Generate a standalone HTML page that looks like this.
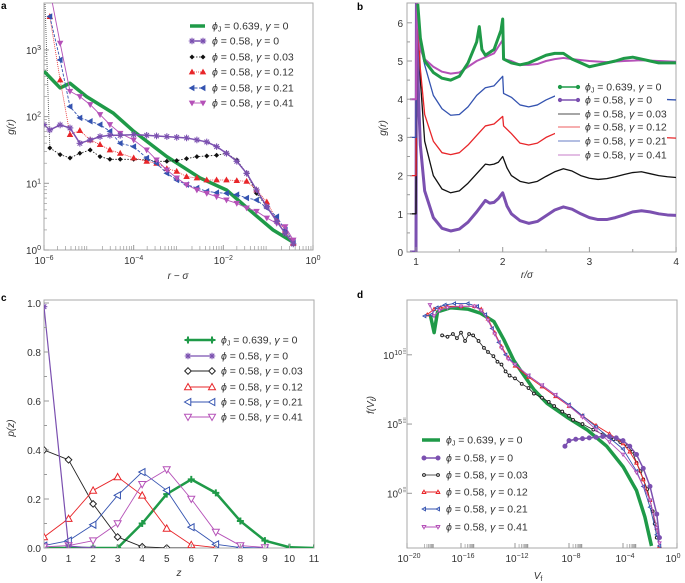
<!DOCTYPE html>
<html><head><meta charset="utf-8"><style>
html,body{margin:0;padding:0;background:#fff}
svg{display:block;font-family:"Liberation Sans",sans-serif}
</style></head><body>
<svg id="fig" width="685" height="583" viewBox="0 0 685 583" xmlns="http://www.w3.org/2000/svg"></svg>
<script>
// ---------- Panel a data (log10 values) ----------
const aX = [-5.87,-5.64,-5.42,-5.20,-4.97,-4.75,-4.53,-4.30,-4.00,-3.71,-3.49,-3.26,-3.04,-2.82,-2.59,-2.37,-2.15,-1.93,-1.70,-1.48,-1.26,-1.03,-0.81,-0.62,-0.44];
const aPurple = [1.8,1.875,1.83,1.6,1.65,1.7,1.72,1.72,1.73,1.72,1.71,1.7,1.69,1.68,1.65,1.62,1.55,1.45,1.33,1.15,0.9,0.65,0.43,0.25,0.09];
const aBlack = [1.53,1.43,1.38,1.45,1.5,1.4,1.36,1.36,1.36,1.35,1.33,1.33,1.34,1.37,1.4,1.41,1.42,1.45,1.35,1.15,0.85,0.65,0.43,0.25,0.09];
const aRed = [3.5,2.55,1.73,1.79,1.65,1.58,1.5,1.45,1.38,1.33,1.3,1.22,1.18,1.1,1.08,1.05,1.05,1.05,1.04,1.03,0.9,0.72,0.45,0.3,0.1];
const aBlue = [3.5,2.85,2.15,1.98,1.93,1.88,1.78,1.6,1.55,1.38,1.3,1.15,1.05,0.98,0.93,0.88,0.86,0.85,0.83,0.78,0.75,0.63,0.5,0.3,0.13];
const aMagenta = [3.9,3.1,2.38,2.3,2.18,2.03,1.88,1.75,1.65,1.5,1.35,1.2,1.08,0.98,0.9,0.85,0.8,0.75,0.7,0.63,0.58,0.48,0.4,0.35,0.15];
const aGreenX = [-6,-5.64,-5.42,-5.05,-4.45,-4.0,-3.26,-2.52,-1.93,-1.33,-0.89,-0.4];
const aGreenY = [2.68,2.43,2.5,2.3,2.05,1.78,1.4,1.08,0.9,0.55,0.3,0.1];
// ---------- Panel b data (shifted g(r)) ----------
const bPurpleR = [0.93,1.0,1.005,1.03,1.05,1.1,1.2,1.3,1.4,1.5,1.6,1.7,1.8,1.85,1.9,1.95,2.0,2.05,2.1,2.2,2.3,2.4,2.5,2.6,2.7,2.8,2.9,3.0,3.1,3.2,3.3,3.4,3.5,3.6,3.7,3.8,3.9,4.0];
const bPurpleG = [0,0,6.5,4,2.8,1.6,0.9,0.62,0.55,0.6,0.78,1.05,1.35,1.28,1.3,1.4,1.55,1.2,1.0,0.82,0.75,0.8,0.95,1.1,1.18,1.12,1.0,0.9,0.85,0.85,0.9,0.97,1.05,1.08,1.05,1.0,0.97,0.96];
const bBlackR = [0.93,1.0,1.01,1.03,1.05,1.1,1.2,1.3,1.4,1.5,1.6,1.7,1.8,1.85,1.9,1.95,2.0,2.05,2.1,2.2,2.3,2.4,2.5,2.6,2.7,2.8,2.9,3.0,3.1,3.2,3.3,3.4,3.5,3.6,3.7,3.8,3.9,4.0];
const bBlackG = [1,1,6.5,6,4.5,2.9,2.0,1.65,1.55,1.6,1.8,2.05,2.3,2.28,2.3,2.35,2.5,2.2,2.0,1.85,1.8,1.85,1.98,2.1,2.18,2.12,2.0,1.93,1.9,1.92,1.97,2.03,2.08,2.1,2.05,2.0,1.97,1.95];
const bRedR = [0.93,1.0,1.01,1.05,1.1,1.2,1.3,1.4,1.5,1.6,1.7,1.8,1.9,2.0,2.01,2.1,2.2,2.3,2.4,2.5,2.6,2.8,3.0,3.2,3.4,3.6,3.8,4.0];
const bRedG = [2,2,6.5,4.8,3.6,2.9,2.6,2.55,2.6,2.8,3.05,3.3,3.35,3.55,3.3,3.1,2.85,2.8,2.85,3.0,3.1,3.1,3.0,2.97,3.02,3.05,3.0,2.98];
const bBlueR = [0.93,1.0,1.01,1.05,1.1,1.2,1.3,1.4,1.5,1.6,1.7,1.8,1.9,2.0,2.01,2.1,2.2,2.3,2.4,2.5,2.6,2.8,3.0,3.2,3.4,3.6,3.8,4.0];
const bBlueG = [3,3,6.5,5.4,4.9,4.1,3.75,3.58,3.6,3.8,4.1,4.3,4.35,4.6,4.15,4.05,3.85,3.8,3.85,3.98,4.08,4.1,4.0,3.97,4.02,4.05,4.0,3.98];
const bMagR = [0.93,1.0,1.01,1.05,1.1,1.2,1.3,1.4,1.5,1.6,1.7,1.8,1.9,2.0,2.01,2.1,2.2,2.3,2.4,2.5,2.6,2.7,2.8,3.0,3.2,3.4,3.6,3.8,4.0];
const bMagG = [4,4,6.5,5.3,5.05,4.85,4.72,4.67,4.7,4.85,5.0,5.1,5.2,5.55,5.05,5.0,4.9,4.9,4.92,5.0,5.05,5.08,5.05,5.0,4.97,5.0,5.02,5.0,4.98];
const bGreenR = [1.02,1.05,1.1,1.2,1.3,1.4,1.5,1.6,1.7,1.73,1.76,1.8,1.9,1.98,2.0,2.01,2.1,2.2,2.3,2.4,2.5,2.6,2.7,2.8,2.9,3.0,3.1,3.2,3.3,3.4,3.5,3.6,3.7,3.8,3.9,4.0];
const bGreenG = [6.5,5.6,5.0,4.7,4.55,4.5,4.6,4.95,5.5,5.9,5.3,5.15,5.3,5.8,6.1,5.05,4.95,4.9,4.95,5.05,5.15,5.2,5.2,5.05,4.95,4.85,4.9,4.95,5.0,5.07,5.1,5.05,5.0,4.95,4.95,4.95];
// ---------- Panel c data ----------
const cZ = [0,1,2,3,4,5,6,7,8,9,10,11];
const cGreen = [0,0,0,0,0.1,0.22,0.28,0.225,0.11,0.03,0.003,0];
const cPurple = [0.985,0.008,0.0];
const cBlack = [0.40,0.36,0.18,0.045,0.005,0,0];
const cRed = [0.045,0.12,0.235,0.29,0.215,0.08,0.013,0.002];
const cBlue = [0.01,0.03,0.095,0.215,0.31,0.235,0.085,0.015,0.002,0];
const cMagenta = [0.005,0.01,0.03,0.1,0.26,0.32,0.2,0.065,0.01,0.002];
// ---------- Panel d data (log10 values) ----------
const dGreenX = [-18.28,-17.99,-17.74,-16.76,-15.5,-14.55,-13.56,-12.83,-12.09,-11.47,-10.61,-9.63,-8.16,-6.68,-5.21,-3.98,-3.0,-2.38,-1.89];
const dGreenY = [12.9,11.6,13.1,13.4,13.3,13.0,12.4,11.1,9.6,8.7,7.5,6.5,5.5,4.6,3.4,1.9,0.2,-1.7,-3.8];
const dPurpleX = [-8.3,-8.0,-7.5,-7.0,-6.5,-6.0,-5.5,-5.0,-4.5,-4.0,-3.5,-3.0,-2.5,-2.0,-1.5,-1.3];
const dPurpleY = [3.4,3.8,3.9,3.95,4.0,4.05,4.1,4.1,4.0,3.8,3.4,2.8,1.8,0.5,-1.5,-3.2];
const dBlackX = [-17.4,-17.0,-16.6,-16.3,-16.0,-15.7,-15.4,-15.1,-14.7,-14.3,-14.0,-13.6,-13.3,-13.0,-12.7,-12.4,-12.0,-11.5,-11.0,-10.6,-10.0,-9.5,-9.1,-8.5,-8.0,-7.7,-7.0,-6.2,-5.5,-4.7,-4.2,-3.7,-3.3,-3.0,-2.7,-2.5,-2.2,-2.0,-1.8,-1.65,-1.5];
const dBlackY = [11.4,11.3,11.5,11.2,11.6,11.0,11.5,11.4,11.0,10.5,10.2,9.9,9.5,9.3,8.8,8.5,8.3,7.9,7.6,7.2,6.9,6.6,6.3,5.9,5.6,5.3,5.0,4.6,4.25,3.9,3.7,3.4,3.0,2.2,1.6,1.0,0.3,-0.5,-1.3,-2.2,-3.2];
const dRedX = [-18.5,-18.0,-17.5,-17.0,-16.0,-15.0,-14.5,-14.0,-13.5,-13.0,-12.5,-12.0,-11.0,-10.0,-9.0,-8.0,-7.0,-6.0,-5.0,-4.0,-3.5,-3.0,-2.5,-2.0,-1.5,-1.3];
const dRedY = [12.9,13.3,13.4,13.5,13.5,13.5,13.3,12.6,11.6,10.6,9.8,9.2,8.4,7.7,7.0,6.3,5.6,4.9,4.3,3.6,3.0,2.2,1.0,-0.5,-2.5,-3.8];
const dBlueX = [-18.7,-18.2,-17.8,-17.2,-16.5,-15.5,-14.8,-14.2,-13.7,-13.2,-12.7,-12.0,-11.0,-10.0,-9.0,-8.0,-7.0,-6.0,-5.0,-4.0,-3.0,-2.5,-2.0,-1.5,-1.3];
const dBlueY = [12.8,12.9,13.4,13.6,13.7,13.7,13.5,12.9,11.9,10.9,10.0,9.3,8.5,7.8,7.1,6.4,5.6,4.8,4.0,3.2,1.6,0.5,-1.0,-3.0,-3.8];
const dMagX = [-18.3,-18.0,-17.6,-17.0,-16.0,-15.0,-14.5,-14.0,-13.5,-13.0,-12.5,-12.0,-11.0,-10.0,-9.0,-8.0,-7.0,-6.0,-5.0,-4.0,-3.0,-2.0,-1.5,-1.3];
const dMagY = [13.6,12.8,13.2,13.4,13.5,13.5,13.2,12.5,11.5,10.5,9.7,9.3,8.5,7.8,7.1,6.3,5.5,4.6,3.7,2.8,1.5,-0.5,-2.5,-3.6];

const NS='http://www.w3.org/2000/svg';
const svg=document.getElementById('fig');
function add(tag,parent,name,attrs){
  const el=document.createElementNS(NS,tag);
  
  
  for(const k in attrs) el.setAttribute(k,attrs[k]);
  parent.appendChild(el);
  return el;
}
const C={green:'#1f9a48',purple:'#7b50b0',black:'#111',red:'#e8262a',blue:'#3453b0',mag:'#b551b8'};
function text(parent,name,x,y,str,opt){
  opt=opt||{};
  const t=add('text',parent,name,{x:x,y:y,'font-size':opt.fs||10,fill:opt.fill||'#333','text-anchor':opt.anchor||'start'});
  if(opt.bold) t.setAttribute('font-weight','bold');
  if(opt.rot) t.setAttribute('transform','rotate(-90 '+x+' '+y+')');
  if(opt.italic) t.setAttribute('font-style','italic');
  t.textContent=str;
  return t;
}
function pow10(parent,name,x,y,e,anchor){
  const t=add('text',parent,name,{x:x,y:y,'font-size':10,fill:'#333','text-anchor':anchor||'middle'});
  const a=document.createElementNS(NS,'tspan');a.textContent='10';t.appendChild(a);
  const b=document.createElementNS(NS,'tspan');b.setAttribute('dy','-4');b.setAttribute('font-size','7');b.textContent=e;t.appendChild(b);
  return t;
}
function marker(g,type,x,y,s,col,filled,name){
  const f=filled?col:'#fff';
  if(type==='circle') return add('circle',g,name,{cx:x,cy:y,r:s,fill:f,stroke:col,'stroke-width':1});
  if(type==='diamond') return add('polygon',g,name,{points:`${x},${y-s} ${x+s},${y} ${x},${y+s} ${x-s},${y}`,fill:f,stroke:col,'stroke-width':1});
  if(type==='up') return add('polygon',g,name,{points:`${x},${y-s} ${x+s},${y+s*0.8} ${x-s},${y+s*0.8}`,fill:f,stroke:col,'stroke-width':1});
  if(type==='down') return add('polygon',g,name,{points:`${x},${y+s} ${x+s},${y-s*0.8} ${x-s},${y-s*0.8}`,fill:f,stroke:col,'stroke-width':1});
  if(type==='left') return add('polygon',g,name,{points:`${x-s},${y} ${x+s*0.8},${y-s} ${x+s*0.8},${y+s}`,fill:f,stroke:col,'stroke-width':1});
  if(type==='star') return add('path',g,name,{d:`M${x-s},${y}H${x+s}M${x},${y-s}V${y+s}M${x-s*0.7},${y-s*0.7}L${x+s*0.7},${y+s*0.7}M${x-s*0.7},${y+s*0.7}L${x+s*0.7},${y-s*0.7}`,stroke:col,'stroke-width':1.1,fill:'none'});
  if(type==='plus') return add('path',g,name,{d:`M${x-s},${y}H${x+s}M${x},${y-s}V${y+s}`,stroke:col,'stroke-width':2,fill:'none'});
}
function panel(name,x0,x1,y0,y1){
  const g=add('g',svg,name,{});
  const id='clip-'+name;
  const cp=add('clipPath',g,name+'-clip',{id:id});
  add('rect',cp,name+'-clip-rect',{x:x0,y:y0,width:x1-x0,height:y1-y0});
  add('rect',g,name+'-frame',{x:x0,y:y0,width:x1-x0,height:y1-y0,fill:'none',stroke:'#aaa','stroke-width':1});
  const plot=add('g',g,name+'-plot-area',{'clip-path':'url(#'+id+')'});
  return {g:g,plot:plot};
}
function series(plot,name,xs,ys,sx,sy,col,w,dash,mtype,ms,filled){
  const sg=add('g',plot,name,{});
  const pts=xs.map((v,i)=>sx(v)+','+sy(ys[i])).join(' ');
  const pl=add('polyline',sg,name+'-line',{points:pts,fill:'none',stroke:col,'stroke-width':w,'stroke-linejoin':'round'});
  if(dash) pl.setAttribute('stroke-dasharray',dash);
  if(mtype) xs.forEach((v,i)=>marker(sg,mtype,sx(v),sy(ys[i]),ms,col,filled,name+'-point'));
}
function legendEntry(g,name,lx1,lx2,y,col,w,dash,mtype,ms,filled,label,tx,sub){
  const eg=add('g',g,name,{});
  const l=add('line',eg,name+'-line',{x1:lx1,y1:y,x2:lx2,y2:y,stroke:col,'stroke-width':w});
  if(dash) l.setAttribute('stroke-dasharray',dash);
  if(mtype){marker(eg,mtype,lx1+2,y,ms,col,filled,name+'-marker');marker(eg,mtype,lx2-2,y,ms,col,filled,name+'-marker');}
  const t=add('text',eg,name+'-label',{x:tx,y:y+3.5,'font-size':10.5,fill:'#333'});
  const a=document.createElementNS(NS,'tspan');a.setAttribute('font-style','italic');a.textContent='ϕ';t.appendChild(a);
  if(sub){const s=document.createElementNS(NS,'tspan');s.setAttribute('font-size','7');s.setAttribute('dy','2');s.textContent='J';t.appendChild(s);
    const r=document.createElementNS(NS,'tspan');r.setAttribute('dy','-2');r.textContent=' = '+label[0]+', ';t.appendChild(r);}
  else {const r=document.createElementNS(NS,'tspan');r.textContent=' = '+label[0]+', ';t.appendChild(r);}
  const gm=document.createElementNS(NS,'tspan');gm.setAttribute('font-style','italic');gm.textContent='γ';t.appendChild(gm);
  const r2=document.createElementNS(NS,'tspan');r2.textContent=' = '+label[1];t.appendChild(r2);
}
function logMinor(g,name,axis,decades,pos,toPx,len){
  decades.forEach(d=>{
    for(let k=2;k<10;k++){
      const p=toPx(d+Math.log10(k));
      if(axis==='x') add('line',g,name,{x1:p,y1:pos,x2:p,y2:pos-len,stroke:'#999','stroke-width':0.7});
      else add('line',g,name,{x1:pos,y1:p,x2:pos+len,y2:p,stroke:'#999','stroke-width':0.7});
    }
  });
}

// ===== Panel a =====
(function(){
  const X0=44,X1=313,Y0=3,Y1=250;
  const sx=v=>X0+(v+6)/6*(X1-X0);
  const sy=v=>Y1-v*66.7;
  const P=panel('panel-a',X0,X1,Y0,Y1);
  text(P.g,'panel-a-label',1,9,'a',{bold:true,fs:10,fill:'#000'});
  const xt=[-6,-4,-2,0];
  xt.forEach(e=>{pow10(P.g,'x-tick-label',sx(e),264,e===0?'0':'−'+(-e));add('line',P.g,'x-tick',{x1:sx(e),y1:Y1,x2:sx(e),y2:Y1-5,stroke:'#999'});});
  logMinor(P.g,'x-minor-tick','x',[-6,-5,-4,-3,-2,-1],Y1,sx,4);
  [0,1,2,3].forEach(e=>{pow10(P.g,'y-tick-label',41,sy(e)+4,e,'end');add('line',P.g,'y-tick',{x1:X0,y1:sy(e),x2:X0+5,y2:sy(e),stroke:'#999'});});
  logMinor(P.g,'y-minor-tick','y',[0,1,2],X0,sy,3);
  text(P.g,'x-axis-title',178,279,'r − σ',{anchor:'middle',italic:true});
  text(P.g,'y-axis-title',14,127,'g(r)',{anchor:'middle',rot:true,italic:true});
  add('line',P.plot,'black-dotted-rise',{x1:sx(-5.98),y1:0,x2:sx(-5.87),y2:sy(1.53),stroke:'#666','stroke-dasharray':'1,1'});
  series(P.plot,'series-a-green',aGreenX,aGreenY,sx,sy,C.green,3.5,null,null);
  series(P.plot,'series-a-black',aX,aBlack,sx,sy,C.black,0.8,'1.5,1.5','diamond',1.8,true);
  series(P.plot,'series-a-red',aX,aRed,sx,sy,C.red,0.8,'1,1','up',2.4,true);
  series(P.plot,'series-a-blue',aX,aBlue,sx,sy,C.blue,0.9,'3,1.5','left',2.4,true);
  series(P.plot,'series-a-magenta',aX,aMagenta,sx,sy,C.mag,0.9,null,'down',2.4,true);
  series(P.plot,'series-a-purple',[-6].concat(aX),[1.88].concat(aPurple),sx,sy,C.purple,1.5,null,'star',3.3,true);
  const L=add('g',P.g,'legend-a',{});
  const ys=[26,41,57,72,88,103];
  legendEntry(L,'legend-entry',190,205,ys[0],C.green,3.5,null,null,0,true,['0.639','0'],212,true);
  legendEntry(L,'legend-entry',190,205,ys[1],C.purple,1.5,null,'star',3.3,true,['0.58','0'],212);
  legendEntry(L,'legend-entry',190,205,ys[2],C.black,0.8,'1.5,1.5','diamond',1.8,true,['0.58','0.03'],212);
  legendEntry(L,'legend-entry',190,205,ys[3],C.red,0.8,'1,1','up',2.4,true,['0.58','0.12'],212);
  legendEntry(L,'legend-entry',190,205,ys[4],C.blue,0.9,'3,1.5','left',2.4,true,['0.58','0.21'],212);
  legendEntry(L,'legend-entry',190,205,ys[5],C.mag,0.9,null,'down',2.4,true,['0.58','0.41'],212);
})();

// ===== Panel b =====
(function(){
  const X0=407,X1=676,Y0=3,Y1=252;
  const sx=v=>416+(v-1)*86.7;
  const sy=v=>Y1-v*38.2;
  const P=panel('panel-b',X0,X1,Y0,Y1);
  text(P.g,'panel-b-label',357,10,'b',{bold:true,fs:10,fill:'#000'});
  [1,2,3,4].forEach(v=>{text(P.g,'x-tick-label',sx(v),265,String(v),{anchor:'middle'});add('line',P.g,'x-tick',{x1:sx(v),y1:Y1,x2:sx(v),y2:Y1-5,stroke:'#999'});});
  [1.5,2.5,3.5].forEach(v=>add('line',P.g,'x-minor-tick',{x1:sx(v),y1:Y1,x2:sx(v),y2:Y1-3,stroke:'#999'}));
  [0,1,2,3,4,5,6].forEach(v=>{text(P.g,'y-tick-label',403,sy(v)+4,String(v),{anchor:'end'});add('line',P.g,'y-tick',{x1:X0,y1:sy(v),x2:X0+5,y2:sy(v),stroke:'#999'});});
  [0.5,1.5,2.5,3.5,4.5,5.5].forEach(v=>add('line',P.g,'y-minor-tick',{x1:X0,y1:sy(v),x2:X0+3,y2:sy(v),stroke:'#999'}));
  text(P.g,'x-axis-title',527,278,'r/σ',{anchor:'middle',italic:true});
  text(P.g,'y-axis-title',386,128,'g(r)',{anchor:'middle',rot:true,italic:true});
  series(P.plot,'series-b-purple',bPurpleR,bPurpleG,sx,sy,C.purple,3,null,null);
  series(P.plot,'series-b-black',bBlackR,bBlackG,sx,sy,C.black,1.3,null,null);
  series(P.plot,'series-b-red',bRedR,bRedG,sx,sy,C.red,1.3,null,null);
  series(P.plot,'series-b-blue',bBlueR,bBlueG,sx,sy,C.blue,1.3,null,null);
  series(P.plot,'series-b-magenta',bMagR,bMagG,sx,sy,C.mag,2,null,null);
  series(P.plot,'series-b-green',bGreenR,bGreenG,sx,sy,C.green,3,null,null);
  const L=add('g',P.g,'legend-b',{});
  add('rect',L,'legend-b-background',{x:555,y:80,width:112,height:81,fill:'#fff'});
  const ys=[87,100,114,127,141,155];
  legendEntry(L,'legend-entry',558,580,ys[0],C.green,1.5,null,'circle',1.6,true,['0.639','0'],585,true);
  legendEntry(L,'legend-entry',558,580,ys[1],C.purple,1.5,null,'circle',1.6,true,['0.58','0'],585);
  legendEntry(L,'legend-entry',558,580,ys[2],C.black,0.8,null,null,0,true,['0.58','0.03'],585);
  legendEntry(L,'legend-entry',558,580,ys[3],C.red,0.8,null,null,0,true,['0.58','0.12'],585);
  legendEntry(L,'legend-entry',558,580,ys[4],C.blue,0.8,null,null,0,true,['0.58','0.21'],585);
  legendEntry(L,'legend-entry',558,580,ys[5],C.mag,0.8,null,null,0,true,['0.58','0.41'],585);
})();

// ===== Panel c =====
(function(){
  const X0=44,X1=314,Y0=300,Y1=548;
  const sx=v=>X0+v*(X1-X0)/11;
  const sy=v=>Y1-v*245;
  const P=panel('panel-c',X0,X1,Y0,Y1);
  text(P.g,'panel-c-label',1,301,'c',{bold:true,fs:10,fill:'#000'});
  cZ.forEach(v=>{text(P.g,'x-tick-label',sx(v),562,String(v),{anchor:'middle'});add('line',P.g,'x-tick',{x1:sx(v),y1:Y1,x2:sx(v),y2:Y1-4,stroke:'#999'});});
  ['0.0','0.2','0.4','0.6','0.8','1.0'].forEach(s=>{const v=parseFloat(s);text(P.g,'y-tick-label',41,sy(v)+4,s,{anchor:'end'});add('line',P.g,'y-tick',{x1:X0,y1:sy(v),x2:X0+5,y2:sy(v),stroke:'#999'});});
  [0.1,0.3,0.5,0.7,0.9].forEach(v=>add('line',P.g,'y-minor-tick',{x1:X0,y1:sy(v),x2:X0+3,y2:sy(v),stroke:'#999'}));
  text(P.g,'x-axis-title',179,576,'z',{anchor:'middle',italic:true});
  text(P.g,'y-axis-title',14,428,'p(z)',{anchor:'middle',rot:true,italic:true});
  const z=n=>cZ.slice(0,n);
  series(P.plot,'series-c-green',cZ,cGreen,sx,sy,C.green,2.5,null,'plus',3.5,true);
  series(P.plot,'series-c-black',z(cBlack.length),cBlack,sx,sy,'#222',0.9,null,'diamond',3.3,false);
  series(P.plot,'series-c-red',z(cRed.length),cRed,sx,sy,C.red,0.9,null,'up',3.5,false);
  series(P.plot,'series-c-blue',z(cBlue.length),cBlue,sx,sy,C.blue,0.9,null,'left',3.5,false);
  series(P.plot,'series-c-magenta',z(cMagenta.length),cMagenta,sx,sy,C.mag,0.9,null,'down',3.5,false);
  series(P.plot,'series-c-purple',z(cPurple.length),cPurple,sx,sy,C.purple,1.2,null,'star',3.3,true);
  const L=add('g',P.g,'legend-c',{});
  const ys=[340,356,371,387,402,417];
  legendEntry(L,'legend-entry',186,214,ys[0],C.green,2.5,null,'plus',3.5,true,['0.639','0'],221,true);
  legendEntry(L,'legend-entry',186,214,ys[1],C.purple,1.2,null,'star',3.3,true,['0.58','0'],221);
  legendEntry(L,'legend-entry',186,214,ys[2],'#222',0.9,null,'diamond',3.3,false,['0.58','0.03'],221);
  legendEntry(L,'legend-entry',186,214,ys[3],C.red,0.9,null,'up',3.5,false,['0.58','0.12'],221);
  legendEntry(L,'legend-entry',186,214,ys[4],C.blue,0.9,null,'left',3.5,false,['0.58','0.21'],221);
  legendEntry(L,'legend-entry',186,214,ys[5],C.mag,0.9,null,'down',3.5,false,['0.58','0.41'],221);
})();

// ===== Panel d =====
(function(){
  const X0=407,X1=677,Y0=300,Y1=548;
  const sx=v=>X0+(v+20)*13.5;
  const sy=v=>493.3-v*13.85;
  const P=panel('panel-d',X0,X1,Y0,Y1);
  text(P.g,'panel-d-label',357,298,'d',{bold:true,fs:10,fill:'#000'});
  [-20,-16,-12,-8,-4,0].forEach(e=>{pow10(P.g,'x-tick-label',e===0?sx(e)-4:sx(e)+2,562,e===0?'0':'−'+(-e));add('line',P.g,'x-tick',{x1:sx(e),y1:Y1,x2:sx(e),y2:Y1-5,stroke:'#999'});});
  logMinor(P.g,'x-minor-tick','x',[-19,-16,-12,-8,-4],Y1,v=>sx(v),4);
  [0,5,10].forEach(e=>{pow10(P.g,'y-tick-label',402,sy(e)+4,e,'end');add('line',P.g,'y-tick',{x1:X0,y1:sy(e),x2:X0+5,y2:sy(e),stroke:'#999'});});
  [0,5,10].forEach(e=>{for(let k=1;k<5;k++)add('line',P.g,'y-minor-tick',{x1:X0-4,y1:sy(e)-k*1.5,x2:X0-1,y2:sy(e)-k*1.5,stroke:'#999','stroke-width':0.7});});
  const xt=text(P.g,'x-axis-title',538,579,'',{anchor:'middle'});
  xt.innerHTML='<tspan font-style="italic">V</tspan><tspan font-size="7" dy="2">f</tspan>';
  const yt=text(P.g,'y-axis-title',374,405,'',{anchor:'middle',rot:true,italic:true});
  yt.innerHTML='f(V<tspan font-size="7" dy="2">f</tspan><tspan dy="-2">)</tspan>';
  series(P.plot,'series-d-green',dGreenX,dGreenY,sx,sy,C.green,3.5,null,null);
  series(P.plot,'series-d-black',dBlackX,dBlackY,sx,sy,'#222',0.8,null,'circle',1.4,false);
  series(P.plot,'series-d-red',dRedX,dRedY,sx,sy,C.red,0.9,null,'up',1.6,false);
  series(P.plot,'series-d-blue',dBlueX,dBlueY,sx,sy,C.blue,0.9,null,'left',1.6,false);
  series(P.plot,'series-d-magenta',dMagX,dMagY,sx,sy,C.mag,0.9,null,'down',1.6,false);
  series(P.plot,'series-d-purple',dPurpleX,dPurpleY,sx,sy,C.purple,1.5,null,'circle',2,true);
  const L=add('g',P.g,'legend-d',{});
  const ys=[440,458,475,492,509,527];
  legendEntry(L,'legend-entry',422,440,ys[0],C.green,3.5,null,null,0,true,['0.639','0'],446,true);
  legendEntry(L,'legend-entry',422,440,ys[1],C.purple,1.5,null,'circle',2,true,['0.58','0'],446);
  legendEntry(L,'legend-entry',422,440,ys[2],'#222',0.8,null,'circle',1.4,false,['0.58','0.03'],446);
  legendEntry(L,'legend-entry',422,440,ys[3],C.red,0.9,null,'up',1.8,false,['0.58','0.12'],446);
  legendEntry(L,'legend-entry',422,440,ys[4],C.blue,0.9,null,'left',1.8,false,['0.58','0.21'],446);
  legendEntry(L,'legend-entry',422,440,ys[5],C.mag,0.9,null,'down',1.8,false,['0.58','0.41'],446);
})();
</script>
</body></html>
